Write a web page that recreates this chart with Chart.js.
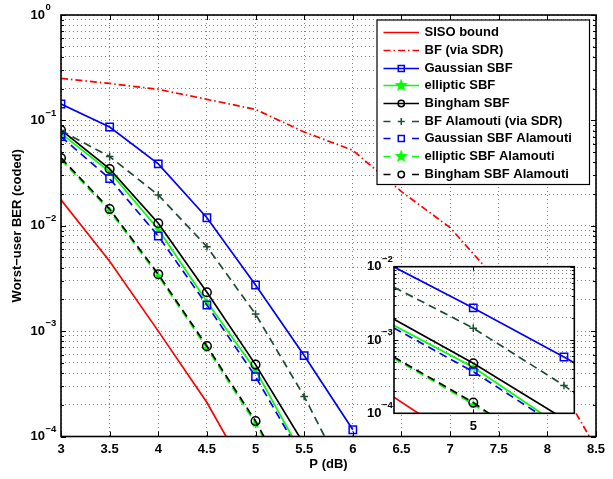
<!DOCTYPE html>
<html>
<head>
<meta charset="utf-8">
<script src="https://cdn.jsdelivr.net/npm/chart.js@4.4.0/dist/chart.umd.min.js"></script>
<style>
  body { margin: 0; background: #fff; }
  #wrap { position: relative; width: 613px; height: 479px; }
  #mainChart { position: absolute; left: 0; top: 0; }
  #insetChart { position: absolute; left: 340px; top: 255px; }
</style>
</head>
<body>
<div id="wrap">
  <canvas id="mainChart" width="613" height="479"></canvas>
  <canvas id="insetChart" width="250" height="190"></canvas>
</div>
<script>
// x values (dB)
const P_DB = [3, 3.5, 4, 4.5, 5, 5.5, 6, 6.5, 7, 7.5, 8, 8.5];

// worst-user BER
const sisoBound       = [0.0176, 0.0046, 0.00100, 0.00021, 0.000032];
const bfSdr           = [0.25, 0.224, 0.197, 0.1585, 0.127, 0.0776, 0.052, 0.0211, 0.0096, 0.0029, 0.00049, 0.000078];
const gaussianSbf     = [0.143, 0.0865, 0.0386, 0.0119, 0.00274, 0.000586, 0.000116];
const ellipticSbf     = [0.0754, 0.0326, 0.00925, 0.0019, 0.000425, 0.000062];
const binghamSbf      = [0.081, 0.0346, 0.01055, 0.00234, 0.000481, 0.000084];
const bfAlamouti      = [0.080, 0.0453, 0.0196, 0.00633, 0.00145, 0.00024, 0.00003];
const gaussianAlamouti = [0.0701, 0.028, 0.0080, 0.00177, 0.00037, 0.000059];
const ellipticAlamouti = [0.0425, 0.0139, 0.00335, 0.00069, 0.000133, 0.00002];
const binghamAlamouti  = [0.044, 0.0144, 0.00347, 0.00072, 0.00014, 0.00002];

const seriesLabels = [
    'SISO bound', 'BF (via SDR)', 'Gaussian SBF', 'elliptic SBF', 'Bingham SBF',
    'BF Alamouti (via SDR)', 'Gaussian SBF Alamouti', 'elliptic SBF Alamouti', 'Bingham SBF Alamouti'
];

const X_TICKS = [3, 3.5, 4, 4.5, 5, 5.5, 6, 6.5, 7, 7.5, 8, 8.5];
const Y_DECADES = [-4, -3, -2, -1, 0];
const INSET_DECADES = [-4, -3, -2];
const INSET_X_TICKS = [5];

const FONT = 'Liberation Sans, Arial, Helvetica, sans-serif';
const DARK_GREEN = '#1d4d33';
const DASH = [8, 5];
const DASH_DOT = [7, 3, 1.5, 3];
const LINE_W = 1.7;

Chart.defaults.font.family = FONT;
Chart.defaults.color = '#000';

function makeStar(size, color) {
    const c = document.createElement('canvas');
    c.width = c.height = size;
    const g = c.getContext('2d');
    const R = size / 2, r = R * 0.42;
    g.beginPath();
    for (let i = 0; i < 10; i++) {
        const rad = i % 2 ? r : R;
        const a = -Math.PI / 2 + i * Math.PI / 5;
        g.lineTo(R + rad * Math.cos(a), R + 0.5 + rad * Math.sin(a));
    }
    g.closePath();
    g.fillStyle = color;
    g.fill();
    return c;
}
const starPoint = makeStar(10, '#00ff00');
const starLegend = makeStar(14, '#00ff00');

function series(values) {
    return values.map((v, i) => ({ x: P_DB[i], y: v }));
}

function buildDatasets() {
    const specs = [
        { data: sisoBound, color: '#ff0000', dash: [], point: false },
        { data: bfSdr, color: '#ff0000', dash: DASH_DOT, point: false },
        { data: gaussianSbf, color: '#0000ff', dash: [], point: 'rect', r: 5.2 },
        { data: ellipticSbf, color: '#00ff00', dash: [], point: starPoint, r: 4 },
        { data: binghamSbf, color: '#000000', dash: [], point: 'circle', r: 4.3 },
        { data: bfAlamouti, color: DARK_GREEN, dash: DASH, point: 'cross', r: 3.8 },
        { data: gaussianAlamouti, color: '#0000ff', dash: DASH, point: 'rect', r: 5.2 },
        { data: ellipticAlamouti, color: '#00ff00', dash: DASH, point: starPoint, r: 4 },
        { data: binghamAlamouti, color: '#000000', dash: DASH, point: 'circle', r: 4.3 }
    ];
    return specs.map((s, i) => ({
        label: seriesLabels[i],
        data: series(s.data),
        borderColor: s.color,
        backgroundColor: s.color,
        borderWidth: LINE_W,
        borderDash: s.dash,
        pointStyle: s.point || 'circle',
        pointRadius: s.point ? s.r : 0,
        pointBorderColor: s.color,
        pointBackgroundColor: 'rgba(0,0,0,0)',
        pointBorderWidth: 1.5,
        tension: 0,
        fill: false,
        order: 8 - i
    }));
}

function logTicks(decades) {
    const ticks = [];
    for (let k = 0; k < decades.length; k++) {
        const base = Math.pow(10, decades[k]);
        ticks.push({ value: base });
        if (k < decades.length - 1) {
            for (let m = 2; m <= 9; m++) ticks.push({ value: m * base });
        }
    }
    return ticks;
}

function drawPowerLabels(chart, decades, xRight) {
    const ctx = chart.ctx;
    const yScale = chart.scales.y;
    ctx.save();
    ctx.fillStyle = '#000';
    ctx.textBaseline = 'middle';
    decades.forEach(e => {
        const y = yScale.getPixelForValue(Math.pow(10, e));
        ctx.font = 'bold 13px ' + FONT;
        ctx.textAlign = 'right';
        ctx.fillText('10', xRight, y);
        ctx.font = 'bold 9.5px ' + FONT;
        ctx.textAlign = 'left';
        ctx.fillText(e < 0 ? '\u2212' + Math.abs(e) : String(e), xRight + 0.5, y - 7.5);
    });
    ctx.restore();
}

function drawBoxAndTicks(chart, xTicks, yTicks, major, minor) {
    const ctx = chart.ctx;
    const a = chart.chartArea;
    ctx.save();
    ctx.strokeStyle = '#000';
    ctx.lineWidth = 1;
    ctx.beginPath();
    xTicks.forEach(v => {
        const x = Math.round(chart.scales.x.getPixelForValue(v)) + 0.5;
        ctx.moveTo(x, a.bottom); ctx.lineTo(x, a.bottom - major);
        ctx.moveTo(x, a.top); ctx.lineTo(x, a.top + major);
    });
    yTicks.forEach(t => {
        const y = Math.round(chart.scales.y.getPixelForValue(t.value)) + 0.5;
        const isMajor = Math.abs(Math.log10(t.value) - Math.round(Math.log10(t.value))) < 1e-9;
        const len = isMajor ? major : minor;
        ctx.moveTo(a.left, y); ctx.lineTo(a.left + len, y);
        ctx.moveTo(a.right, y); ctx.lineTo(a.right - len, y);
    });
    ctx.stroke();
    ctx.lineWidth = 1.6;
    ctx.strokeRect(a.left, a.top, a.right - a.left, a.bottom - a.top);
    ctx.restore();
}

function drawLegendMarker(ctx, ds, x, y) {
    const st = ds.pointStyle;
    if (!ds.pointRadius) return;
    ctx.setLineDash([]);
    ctx.lineWidth = 1.5;
    ctx.strokeStyle = ds.borderColor;
    if (st === starPoint) {
        ctx.drawImage(starLegend, x - 7, y - 7.5);
    } else if (st === 'rect') {
        ctx.strokeRect(x - 3, y - 3, 6, 6);
    } else if (st === 'circle') {
        ctx.beginPath(); ctx.arc(x, y, 3.2, 0, Math.PI * 2); ctx.stroke();
    } else if (st === 'cross') {
        ctx.beginPath();
        ctx.moveTo(x - 3.5, y); ctx.lineTo(x + 3.5, y);
        ctx.moveTo(x, y - 3.5); ctx.lineTo(x, y + 3.5);
        ctx.stroke();
    }
}

function drawLegend(chart) {
    const ctx = chart.ctx;
    const a = chart.chartArea;
    const right = a.right - 6.5, top = a.top + 5;
    const left = right - 212.5, height = 164.5;
    const rowStep = 17.65, firstRow = top + 12.3;
    const lineX0 = left + 6.5, lineX1 = left + 42, textX = left + 47.5;
    ctx.save();
    ctx.fillStyle = '#fff';
    ctx.fillRect(left, top, right - left, height);
    ctx.strokeStyle = '#000';
    ctx.lineWidth = 1.2;
    ctx.strokeRect(left, top, right - left, height);
    chart.data.datasets.forEach((ds, i) => {
        const y = Math.round(firstRow + i * rowStep) + 0.5;
        const mid = (lineX0 + lineX1) / 2;
        ctx.strokeStyle = ds.borderColor;
        ctx.lineWidth = LINE_W;
        ctx.beginPath();
        if (ds.borderDash === DASH) {
            ctx.setLineDash([]);
            ctx.moveTo(lineX0, y); ctx.lineTo(lineX0 + 7, y);
            ctx.moveTo(lineX1 - 7, y); ctx.lineTo(lineX1, y);
        } else {
            ctx.setLineDash(ds.borderDash);
            ctx.moveTo(lineX0, y); ctx.lineTo(lineX1, y);
        }
        ctx.stroke();
        drawLegendMarker(ctx, ds, mid, y);
        ctx.setLineDash([]);
        ctx.fillStyle = '#000';
        ctx.font = 'bold 13px ' + FONT;
        ctx.textAlign = 'left';
        ctx.textBaseline = 'middle';
        ctx.fillText(ds.label, textX, y);
    });
    ctx.restore();
}

const gridOpts = { color: 'rgba(0,0,0,0.5)', lineWidth: 1, drawTicks: false };
const borderOpts = { display: false, dash: [1, 3] };

const mainTicksY = logTicks(Y_DECADES);

new Chart(document.getElementById('mainChart'), {
    type: 'line',
    data: { datasets: buildDatasets() },
    options: {
        responsive: false,
        animation: false,
        layout: { padding: { left: 0, right: 17, top: 15, bottom: 0 } },
        plugins: { legend: { display: false }, tooltip: { enabled: false } },
        scales: {
            x: {
                type: 'linear', min: 3, max: 8.5,
                afterBuildTicks: s => { s.ticks = X_TICKS.map(v => ({ value: v })); },
                afterFit: s => { s.height = 42.5; },
                ticks: { autoSkip: false, padding: 5, font: { size: 13, weight: 'bold' }, maxRotation: 0,
                         callback: v => String(v) },
                grid: gridOpts,
                border: borderOpts,
                title: { display: true, text: 'P (dB)', font: { size: 13, weight: 'bold' }, padding: { top: 0, bottom: 7 } }
            },
            y: {
                type: 'logarithmic', min: 1e-4, max: 1,
                afterBuildTicks: s => { s.ticks = mainTicksY.map(t => ({ value: t.value })); },
                afterFit: s => { s.width = 61; },
                ticks: { autoSkip: false, callback: () => '' },
                grid: gridOpts,
                border: borderOpts,
                title: { display: true, text: 'Worst\u2212user BER (coded)', font: { size: 13, weight: 'bold' }, padding: { top: 10, bottom: 0 } }
            }
        }
    },
    plugins: [{
        id: 'matlabAxes',
        afterDraw(chart) {
            drawBoxAndTicks(chart, X_TICKS, mainTicksY, 5, 3);
            drawPowerLabels(chart, Y_DECADES, 45);
            drawLegend(chart);
        }
    }]
});

const insetTicksY = logTicks(INSET_DECADES);

new Chart(document.getElementById('insetChart'), {
    type: 'line',
    data: { datasets: buildDatasets() },
    options: {
        responsive: false,
        animation: false,
        layout: { padding: { left: 0, right: 15.7, top: 11.7, bottom: 0 } },
        plugins: { legend: { display: false }, tooltip: { enabled: false } },
        scales: {
            x: {
                type: 'linear', min: 4.563, max: 5.557,
                afterBuildTicks: s => { s.ticks = INSET_X_TICKS.map(v => ({ value: v })); },
                afterFit: s => { s.height = 31.7; },
                ticks: { autoSkip: false, padding: 5, font: { size: 13, weight: 'bold' }, maxRotation: 0,
                         callback: v => String(v) },
                grid: gridOpts,
                border: borderOpts
            },
            y: {
                type: 'logarithmic', min: 1e-4, max: 1e-2,
                afterBuildTicks: s => { s.ticks = insetTicksY.map(t => ({ value: t.value })); },
                afterFit: s => { s.width = 54; },
                ticks: { autoSkip: false, callback: () => '' },
                grid: gridOpts,
                border: borderOpts
            }
        }
    },
    plugins: [{
        id: 'insetFrame',
        beforeDraw(chart) {
            const a = chart.chartArea;
            chart.ctx.save();
            chart.ctx.fillStyle = '#fff';
            chart.ctx.fillRect(a.left, a.top, a.right - a.left, a.bottom - a.top);
            chart.ctx.restore();
        },
        afterDraw(chart) {
            drawBoxAndTicks(chart, INSET_X_TICKS, insetTicksY, 4, 2.5);
            drawPowerLabels(chart, INSET_DECADES, chart.chartArea.left - 12.5);
        }
    }]
});
</script>
</body>
</html>
